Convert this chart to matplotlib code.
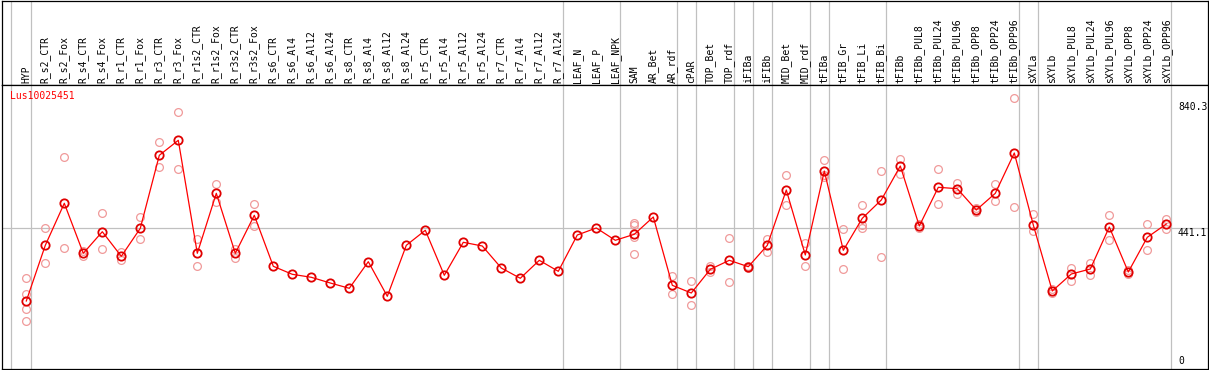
import matplotlib
matplotlib.use("Agg")
import matplotlib.pyplot as plt

labels = ['HYP', 'R_s2_CTR', 'R_s2_Fox', 'R_s4_CTR', 'R_s4_Fox', 'R_r1_CTR', 'R_r1_Fox',
          'R_r3_CTR', 'R_r3_Fox', 'R_r1s2_CTR', 'R_r1s2_Fox', 'R_r3s2_CTR', 'R_r3s2_Fox',
          'R_s6_CTR', 'R_s6_Al4', 'R_s6_Al12', 'R_s6_Al24', 'R_s8_CTR', 'R_s8_Al4', 'R_s8_Al12',
          'R_s8_Al24', 'R_r5_CTR', 'R_r5_Al4', 'R_r5_Al12', 'R_r5_Al24', 'R_r7_CTR', 'R_r7_Al4',
          'R_r7_Al12', 'R_r7_Al24', 'LEAF_N', 'LEAF_P', 'LEAF_NPK', 'SAM', 'AR_Bet', 'AR_rdf',
          'cPAR', 'TOP_Bet', 'TOP_rdf', 'iFIBa', 'iFIBb', 'MID_Bet', 'MID_rdf', 'tFIBa',
          'tFIB_Gr', 'tFIB_Li', 'tFIB_Bi', 'tFIBb', 'tFIBb_PUL8', 'tFIBb_PUL24', 'tFIBb_PUL96',
          'tFIBb_OPP8', 'tFIBb_OPP24', 'tFIBb_OPP96', 'sXYLa', 'sXYLb', 'sXYLb_PUL8',
          'sXYLb_PUL24', 'sXYLb_PUL96', 'sXYLb_OPP8', 'sXYLb_OPP24', 'sXYLb_OPP96']

means = [198.5, 382.7, 521.7, 356.3, 427.7, 346.3, 439.0, 680.4, 730.1, 356.3, 554.7,
         356.3, 482.0, 313.3, 286.8, 276.9, 258.0, 240.5, 328.5, 214.0, 382.7, 432.4,
         283.5, 392.7, 380.4, 307.6, 273.6, 333.1, 296.7, 416.8, 440.0, 399.3, 419.1,
         476.4, 250.4, 224.9, 303.3, 333.1, 311.9, 382.7, 565.7, 350.6, 628.5, 366.2,
         472.1, 532.6, 645.1, 446.6, 574.6, 570.0, 499.5, 554.7, 688.1, 449.9, 231.6,
         287.8, 304.3, 443.3, 294.4, 409.2, 453.2]

reps = [[273.6, 221.6, 171.0, 132.3], [439.0, 324.2], [673.8, 372.8], [364.9, 348.3],
        [488.6, 369.5], [361.6, 335.1], [475.4, 402.6], [723.5, 640.8], [822.7, 634.1],
        [402.6, 313.3], [584.5, 527.0], [371.5, 341.7], [518.4, 445.6],
        [], [], [], [], [], [], [], [], [], [], [], [], [], [], [], [], [], [], [],
        [455.5, 449.9, 411.2, 354.0], [], [280.2, 222.6], [263.6, 184.3], [315.3, 294.4],
        [405.9, 260.3], [315.9, 307.6], [404.6, 359.6], [614.3, 515.1], [389.4, 313.3],
        [664.9, 614.3, 607.7], [435.7, 303.3], [515.1, 449.9, 440.0], [627.5, 343.0],
        [667.2, 617.6], [439.0, 453.2], [634.1, 518.4], [588.8, 553.4], [507.1, 493.9],
        [584.5, 528.3], [869.0, 509.4], [485.3, 431.0], [238.2, 224.9], [307.6, 265.6],
        [325.2, 283.5], [482.0, 399.3], [299.4, 289.4], [452.2, 366.2], [469.7, 435.7]]

# group separators (after these category indices)
seps = [-1.05, 0, 28, 31, 34, 35, 37, 38, 39, 41, 42, 45, 52, 53, 60]
yticks = [0, 441.1, 840.3]

W, H = 1209, 370
fig = plt.figure(figsize=(W / 100, H / 100), dpi=100)
mono = 'DejaVu Sans Mono'
xlim = ((1.5 - 26.3) / 19, (1207.5 - 26.3) / 19)

head = fig.add_axes([1.5 / W, 1 - 85 / H, 1206 / W, 84.5 / H])
ax = fig.add_axes([1.5 / W, 1.5 / H, 1206 / W, 83.5 / H * 0 + (368.5 - 85) / H])

for a in (head, ax):
    a.set_xlim(*xlim)
    a.set_xticks([])
    a.set_yticks([])
    for s in a.spines.values():
        s.set_color('black')
        s.set_linewidth(0.9)
    for k in seps:
        a.axvline(k + 0.23, color='#c0c0c0', lw=0.9, zorder=0)

head.set_ylim(0, 85)
for i, lab in enumerate(labels):
    head.text(i, 2.5, lab, rotation=90, ha='center', va='bottom',
              fontsize=7, family=mono, color='black')

ax.set_ylim((361 - 368.5) * 3.308, (361 - 85) * 3.308)
ax.axhline(441.1, color='#c0c0c0', lw=0.9, zorder=0)

x = list(range(len(labels)))
for i, r in enumerate(reps):
    if r:
        ax.plot([i] * len(r), r, 'o', ms=5.6, mfc='none', mec='#f09a9a', mew=0.9, zorder=2)

ax.plot(x, means, color='#ff0000', lw=0.9, zorder=3)
ax.plot(x, means, 'o', ms=6, mfc='none', mec='#e00000', mew=1.3, zorder=4)

xt = (1178 - 26.3) / 19
ax.text(xt, 840.3, '840.3', ha='left', va='center', fontsize=7, family=mono)
ax.text(xt, 441.1, '441.1', ha='left', va='top', fontsize=7, family=mono)
ax.text(xt, 0, '0', ha='left', va='center', fontsize=7, family=mono)

fig.text(10 / W, 1 - 91 / H, 'Lus10025451', ha='left', va='top', fontsize=7,
         family=mono, color='#ff0000')

fig.savefig('out.png', dpi=100)
